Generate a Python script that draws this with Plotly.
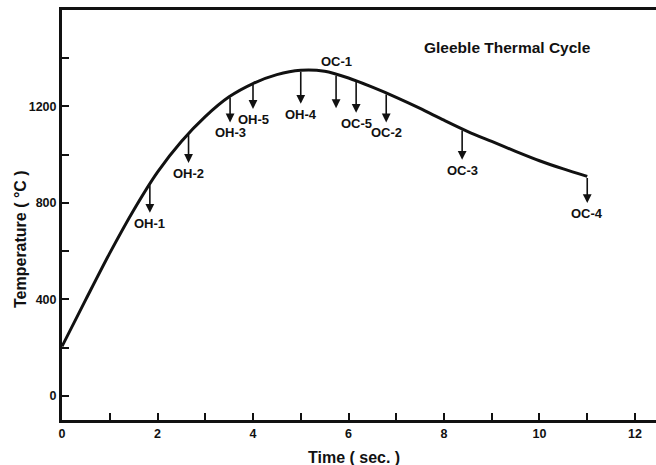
import plotly.graph_objects as go

# Gleeble thermal cycle: temperature (°C) against time (s)
time_s = [0, 0.5, 1.0, 1.5, 2.0, 2.5, 3.0, 3.5, 4.0, 4.5, 5.0, 5.5,
          6.0, 6.5, 7.0, 7.5, 8.0, 8.5, 9.0, 9.5, 10.0, 10.5, 11.0]
temp_c = [205, 400, 592, 770, 928, 1055, 1158, 1240, 1295, 1332, 1350, 1346,
          1318, 1280, 1238, 1192, 1143, 1096, 1055, 1014, 975, 941, 910]

# Specimen quench points: label, time on the cycle, temperature on the cycle, arrow tip temperature
sample_labels = ["OH-1", "OH-2", "OH-3", "OH-5", "OH-4",
                 "OC-1", "OC-5", "OC-2", "OC-3", "OC-4"]
sample_time = [1.84, 2.65, 3.52, 4.0, 5.0, 5.74, 6.16, 6.79, 8.38, 11.0]
sample_temp = [880, 1088, 1243, 1295, 1350, 1334, 1308, 1256, 1107, 910]
arrow_tip_temp = [759, 966, 1134, 1190, 1211, 1193, 1174, 1134, 979, 800]

x_major = [0, 2, 4, 6, 8, 10, 12]
x_minor = [1, 3, 5, 7, 9, 11]
y_major = [0, 400, 800, 1200]
y_minor = [200, 600, 1000, 1400]

FONT = "Liberation Sans, Arial, Helvetica, sans-serif"
INK = "#111111"


def font(size):
    return dict(family=FONT, size=size, color=INK, weight="bold")


fig = go.Figure()
fig.add_trace(go.Scatter(
    x=time_s, y=temp_c, mode="lines",
    line=dict(color=INK, width=3, shape="spline", smoothing=0.8),
    hoverinfo="skip", showlegend=False,
))

annotations = []
for lab, t, tc, tip in zip(sample_labels, sample_time, sample_temp, arrow_tip_temp):
    annotations.append(dict(
        x=t, y=tip, ax=t, ay=tc, xref="x", yref="y", axref="x", ayref="y",
        text="", showarrow=True, arrowhead=2, arrowsize=1.1, arrowwidth=1.6,
        arrowcolor=INK, standoff=0, startstandoff=0,
    ))
    if lab == "OC-1":
        annotations.append(dict(
            x=t, y=tc, xref="x", yref="y", text=lab, showarrow=False,
            xanchor="center", yanchor="bottom", yshift=3, font=font(13),
        ))
    else:
        annotations.append(dict(
            x=t, y=tip, xref="x", yref="y", text=lab, showarrow=False,
            xanchor="center", yanchor="top", yshift=-1, font=font(13),
        ))

annotations += [
    dict(x=507, y=48, xref="paper", yref="paper", text="Gleeble Thermal Cycle",
         showarrow=False, xanchor="center", yanchor="middle", font=font(15.5)),
    dict(x=354, y=457, xref="paper", yref="paper", text="Time ( sec. )",
         showarrow=False, xanchor="center", yanchor="middle", font=font(16)),
    dict(x=20, y=239, xref="paper", yref="paper", text="Temperature ( °C )",
         showarrow=False, textangle=-90, xanchor="center", yanchor="middle",
         font=font(16)),
]

# convert the pixel placements above to paper fractions of the plot area
L, R, T, B = 62, 0, 10, 45
W, H = 656, 465
for a in annotations[-3:]:
    a["x"] = (a["x"] - L) / (W - L - R)
    a["y"] = (H - B - a["y"]) / (H - T - B)

fig.update_layout(
    width=W, height=H,
    margin=dict(l=L, r=R, t=T, b=B),
    paper_bgcolor="white", plot_bgcolor="white",
    annotations=annotations,
    xaxis=dict(
        range=[0, 12.44], tickmode="array", tickvals=x_major,
        ticks="inside", ticklen=7, tickwidth=1.6, tickcolor=INK,
        showline=True, linewidth=3, linecolor=INK, mirror=True,
        showgrid=False, zeroline=False, tickfont=font(12.5),
        minor=dict(tickmode="array", tickvals=x_minor, ticks="inside",
                   ticklen=7, tickwidth=1.6, tickcolor=INK, showgrid=False),
    ),
    yaxis=dict(
        range=[-100, 1600], tickmode="array", tickvals=y_major,
        ticks="inside", ticklen=7, tickwidth=1.6, tickcolor=INK,
        showline=True, linewidth=3, linecolor=INK, mirror=False,
        showgrid=False, zeroline=False, tickfont=font(12.5),
        minor=dict(tickmode="array", tickvals=y_minor, ticks="inside",
                   ticklen=7, tickwidth=1.6, tickcolor=INK, showgrid=False),
    ),
)

fig.write_html("out.html")
